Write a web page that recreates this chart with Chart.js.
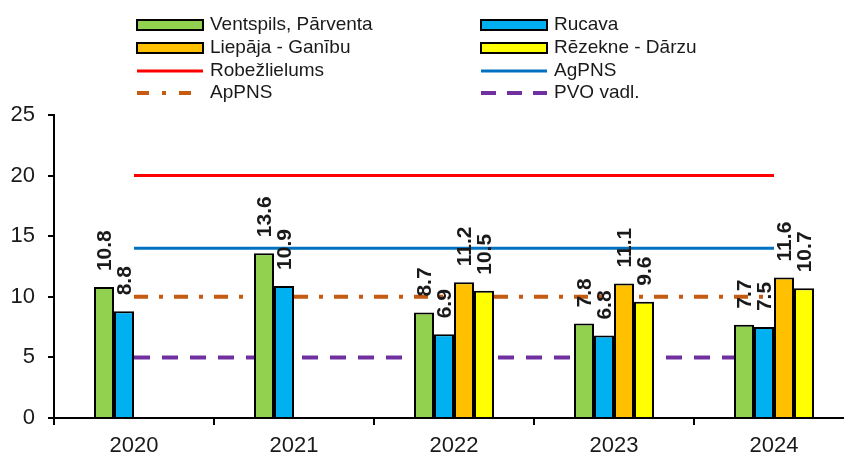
<!DOCTYPE html>
<html>
<head>
<meta charset="utf-8">
<script src="https://cdn.jsdelivr.net/npm/chart.js@4"></script>
<style>
  html, body { margin: 0; padding: 0; background: #fff; overflow: hidden; }
  #wrap { width: 844px; height: 453px; overflow: hidden; }
  #wrap div { width: 856px; height: 453px; }
</style>
</head>
<body>
<div id="wrap"><div><canvas id="chart"></canvas></div></div>
<script>
// dati
const years = ['2020', '2021', '2022', '2023', '2024'];
const ventspils = [10.8, 13.6, 8.7, 7.8, 7.7];
const rucava = [8.8, 10.9, 6.9, 6.8, 7.5];
const liepaja = [null, null, 11.2, 11.1, 11.6];
const rezekne = [null, null, 10.5, 9.6, 10.7];
const robezlielums = [20, 20, 20, 20, 20];
const agpns = [14, 14, 14, 14, 14];
const appns = [10, 10, 10, 10, 10];
const pvo = [5, 5, 5, 5, 5];
const yTicks = [0, 5, 10, 15, 20, 25];

const FONT = "'Liberation Sans', Arial, sans-serif";
const TEXT = '#1a1a1a';

function bar(label, data, color) {
    return {
        type: 'bar', label: label, data: data,
        backgroundColor: color, borderColor: '#000', borderWidth: 2,
        barPercentage: 1.0, categoryPercentage: 0.5, order: 0
    };
}

function line(label, data, color, dash, width) {
    return {
        type: 'line', label: label, data: data,
        borderColor: color, borderWidth: width, borderDash: dash,
        pointRadius: 0, fill: false, order: 1
    };
}

const datasets = [
    bar('Ventspils, Pārventa', ventspils, '#92D050'),
    bar('Rucava', rucava, '#00B0F0'),
    bar('Liepāja - Ganību', liepaja, '#FFC000'),
    bar('Rēzekne - Dārzu', rezekne, '#FFFF00'),
    line('Robežlielums', robezlielums, '#FF0000', [], 3),
    line('AgPNS', agpns, '#0070C0', [], 3),
    line('ApPNS', appns, '#C55A11', [14, 11, 4, 11], 4),
    line('PVO vadl.', pvo, '#7030A0', [16, 12], 4)
];

// leģenda divās kolonnās
const legendPlugin = {
    id: 'twoColLegend',
    afterDraw(chart) {
        const ctx = chart.ctx;
        const colX = [137, 481];
        const rowY = [25, 48, 71, 93];
        ctx.save();
        ctx.font = '19px ' + FONT;
        ctx.textBaseline = 'middle';
        chart.data.datasets.forEach((ds, i) => {
            const x = colX[i % 2];
            const y = rowY[Math.floor(i / 2)];
            if (ds.type === 'bar') {
                ctx.fillStyle = ds.backgroundColor;
                ctx.fillRect(x, y - 5, 66, 10);
                ctx.strokeStyle = '#000';
                ctx.lineWidth = 2;
                ctx.setLineDash([]);
                ctx.strokeRect(x, y - 5, 66, 10);
            } else {
                ctx.strokeStyle = ds.borderColor;
                ctx.lineWidth = ds.borderWidth;
                ctx.setLineDash(ds.label === 'ApPNS' ? [12, 13, 4, 13] : (ds.label === 'PVO vadl.' ? [15, 11] : []));
                ctx.beginPath();
                ctx.moveTo(x, y);
                ctx.lineTo(x + 66, y);
                ctx.stroke();
            }
            ctx.setLineDash([]);
            ctx.fillStyle = TEXT;
            ctx.fillText(ds.label, x + 73, y);
        });
        ctx.restore();
    }
};

// vērtību etiķetes virs stabiņiem
const labelPlugin = {
    id: 'barLabels',
    afterDatasetsDraw(chart) {
        const ctx = chart.ctx;
        ctx.save();
        ctx.font = 'bold 21px ' + FONT;
        ctx.fillStyle = TEXT;
        ctx.textAlign = 'left';
        ctx.textBaseline = 'middle';
        chart.data.datasets.forEach((ds, i) => {
            if (ds.type !== 'bar') return;
            chart.getDatasetMeta(i).data.forEach((el, j) => {
                const v = ds.data[j];
                if (v === null) return;
                ctx.save();
                ctx.translate(el.x + 1, el.y - 16);
                ctx.rotate(-Math.PI / 2);
                ctx.fillText(v.toFixed(1), 0, 0);
                ctx.restore();
            });
        });
        ctx.restore();
    }
};

new Chart(document.getElementById('chart'), {
    data: { labels: years, datasets: datasets },
    options: {
        responsive: true,
        maintainAspectRatio: false,
        animation: false,
        layout: { padding: { top: 115, right: 2, left: 0, bottom: 0 } },
        plugins: { legend: { display: false }, tooltip: { enabled: false } },
        scales: {
            x: {
                offset: true,
                afterFit(scale) { scale.height = 35; },
                grid: { offset: true, drawOnChartArea: false, drawTicks: true, tickLength: 7, color: '#000', lineWidth: 2 },
                border: { color: '#000', width: 2 },
                ticks: { color: TEXT, font: { family: FONT, size: 22 }, padding: 8 }
            },
            y: {
                min: 0, max: 25,
                afterFit(scale) { scale.width = 54; },
                afterBuildTicks(scale) { scale.ticks = yTicks.map(v => ({ value: v })); },
                grid: { drawOnChartArea: false, drawTicks: true, tickLength: 6, color: '#000', lineWidth: 2 },
                border: { color: '#000', width: 2 },
                ticks: { color: TEXT, font: { family: FONT, size: 22 }, padding: 13 }
            }
        }
    },
    plugins: [legendPlugin, labelPlugin]
});
</script>
</body>
</html>
